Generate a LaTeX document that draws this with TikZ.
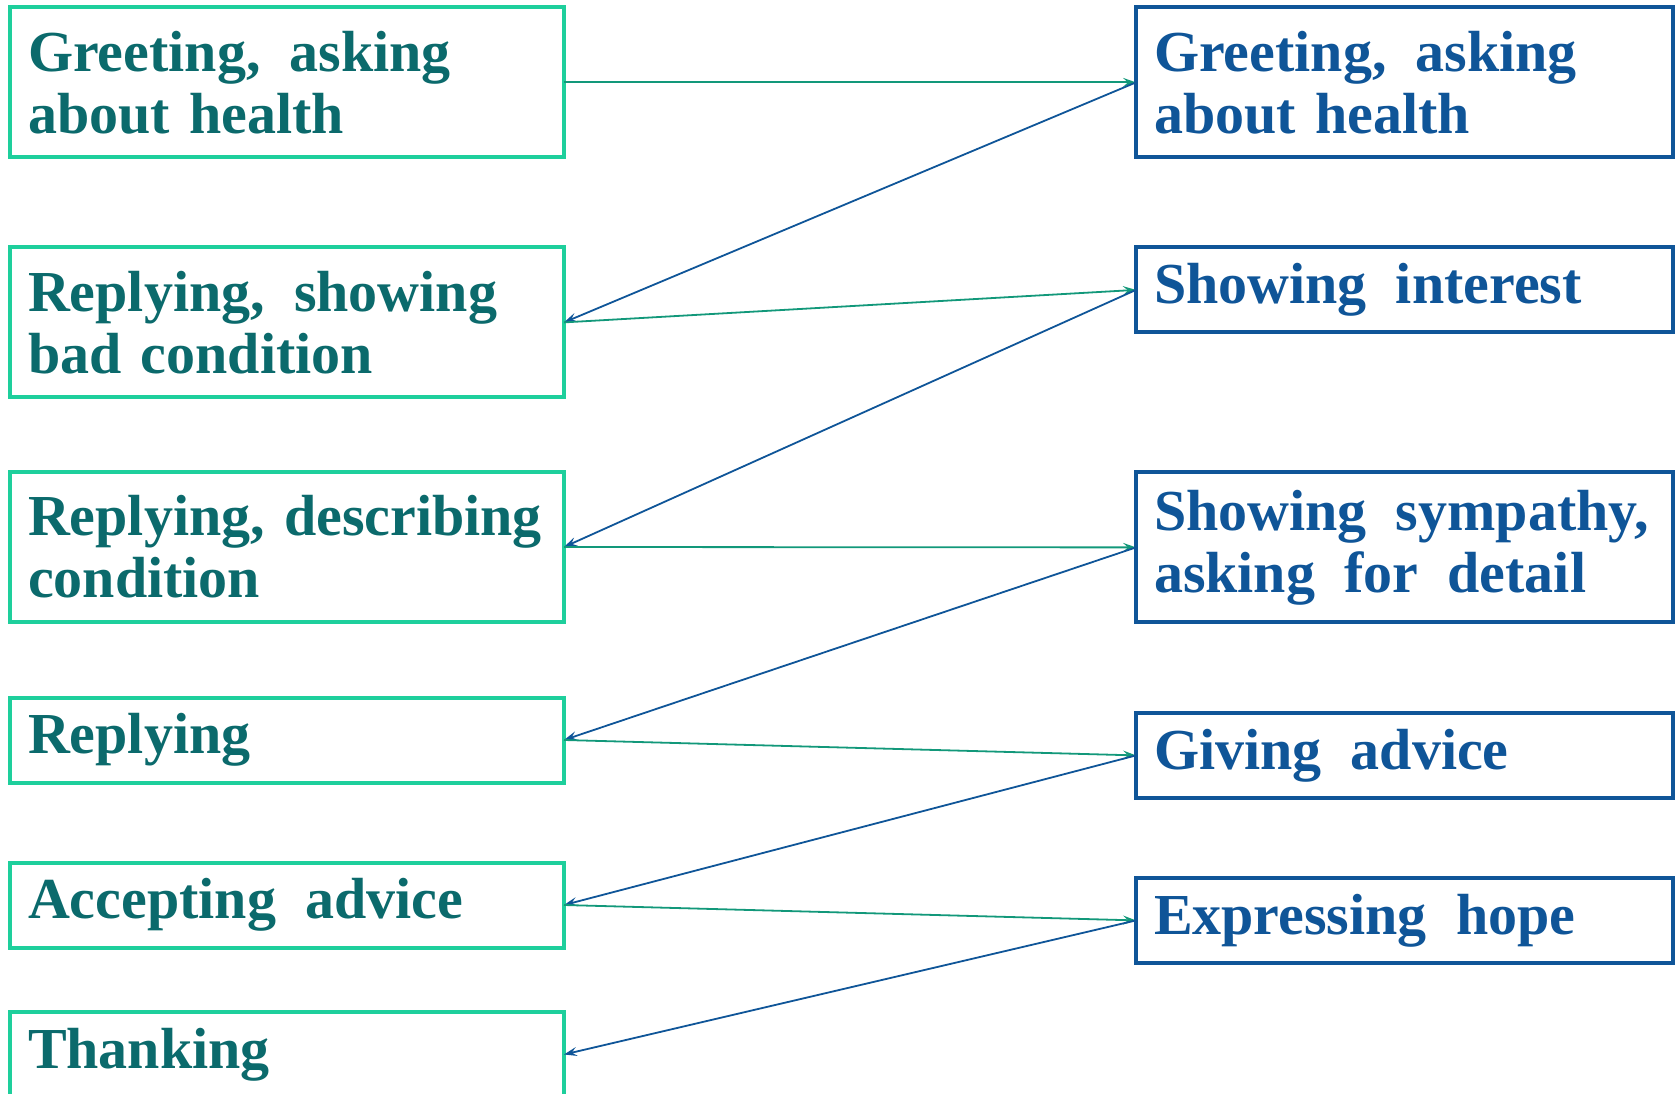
\documentclass[tikz,border=0pt]{standalone}
\usepackage{fontspec}
\setmainfont{Liberation Serif}
\usetikzlibrary{positioning,arrows.meta}
\definecolor{boxgreen}{HTML}{1ECF9C}
\definecolor{textteal}{HTML}{0B6A6C}
\definecolor{boxblue}{HTML}{0F5598}
\definecolor{linegreen}{HTML}{12987A}
\newcommand{\wgap}{\hspace{0.17em}\ }
\hyphenpenalty=10000

\begin{document}
\begin{tikzpicture}[x=1pt,y=-1pt,
				box/.style={draw,rectangle,line width=4pt,outer sep=0pt,inner xsep=18pt,inner ysep=0pt,align=left,
					font=\fontsize{58}{62}\selectfont\bfseries},
				leftbox/.style={box,draw=boxgreen,text=textteal,text width=518pt},
				rightbox/.style={box,draw=boxblue,text=boxblue,text width=501pt},
				tall/.style={minimum height=150pt},
				short/.style={minimum height=85pt},
				fwd/.style={-{Stealth[length=13pt,width=9pt,inset=5pt]},line width=1.8pt,draw=linegreen},
				back/.style={-{Stealth[length=13pt,width=9pt,inset=5pt]},line width=1.8pt,draw=boxblue}]
				\useasboundingbox (0,0) rectangle (1679,1094);
				% left column
				\node (GREETA)   [leftbox,tall]  at (287,82.4)              {Greeting,\wgap asking\\about health};
				\node (BADCOND)  [leftbox,tall,below=90pt of GREETA]        {Replying,\wgap showing\\bad condition};
				\node (DESCR)    [leftbox,tall,below=74.6pt of BADCOND]     {Replying, describing\\condition};
				\node (REPLY)    [leftbox,short,below=75.5pt of DESCR]      {Replying};
				\node (ACCEPT)   [leftbox,short,below=80pt of REPLY]        {Accepting\wgap advice};
				\node (THANK)    [leftbox,short,below=64.5pt of ACCEPT]     {Thanking};
				% right column
				\node (GREETB)   [rightbox,tall,right=572pt of GREETA,anchor=west]  {Greeting,\wgap asking\\about health};
				\node (INTEREST) [rightbox,short,below=90pt of GREETB]      {Showing\wgap interest};
				\node (SYMPATHY) [rightbox,tall,below=140pt of INTEREST]    {Showing\wgap sympathy,\\asking\wgap for\wgap detail};
				\node (ADVICE)   [rightbox,short,below=90.5pt of SYMPATHY]  {Giving\wgap advice};
				\node (HOPE)     [rightbox,short,below=80pt of ADVICE]      {Expressing\wgap hope};

				\draw[fwd]  (GREETA.east)  -- (GREETB.west);
				\draw[back] (GREETB.west)  -- (BADCOND.east);
				\draw[fwd]  (BADCOND.east) -- (INTEREST.west);
				\draw[back] (INTEREST.west) -- (DESCR.east);
				\draw[fwd]  (DESCR.east)   -- (SYMPATHY.west);
				\draw[back] (SYMPATHY.west) -- (REPLY.east);
				\draw[fwd]  (REPLY.east)   -- (ADVICE.west);
				\draw[back] (ADVICE.west)  -- (ACCEPT.east);
				\draw[fwd]  (ACCEPT.east)  -- (HOPE.west);
				\draw[back] (HOPE.west)    -- (THANK.east);
			\end{tikzpicture}
\end{document}
